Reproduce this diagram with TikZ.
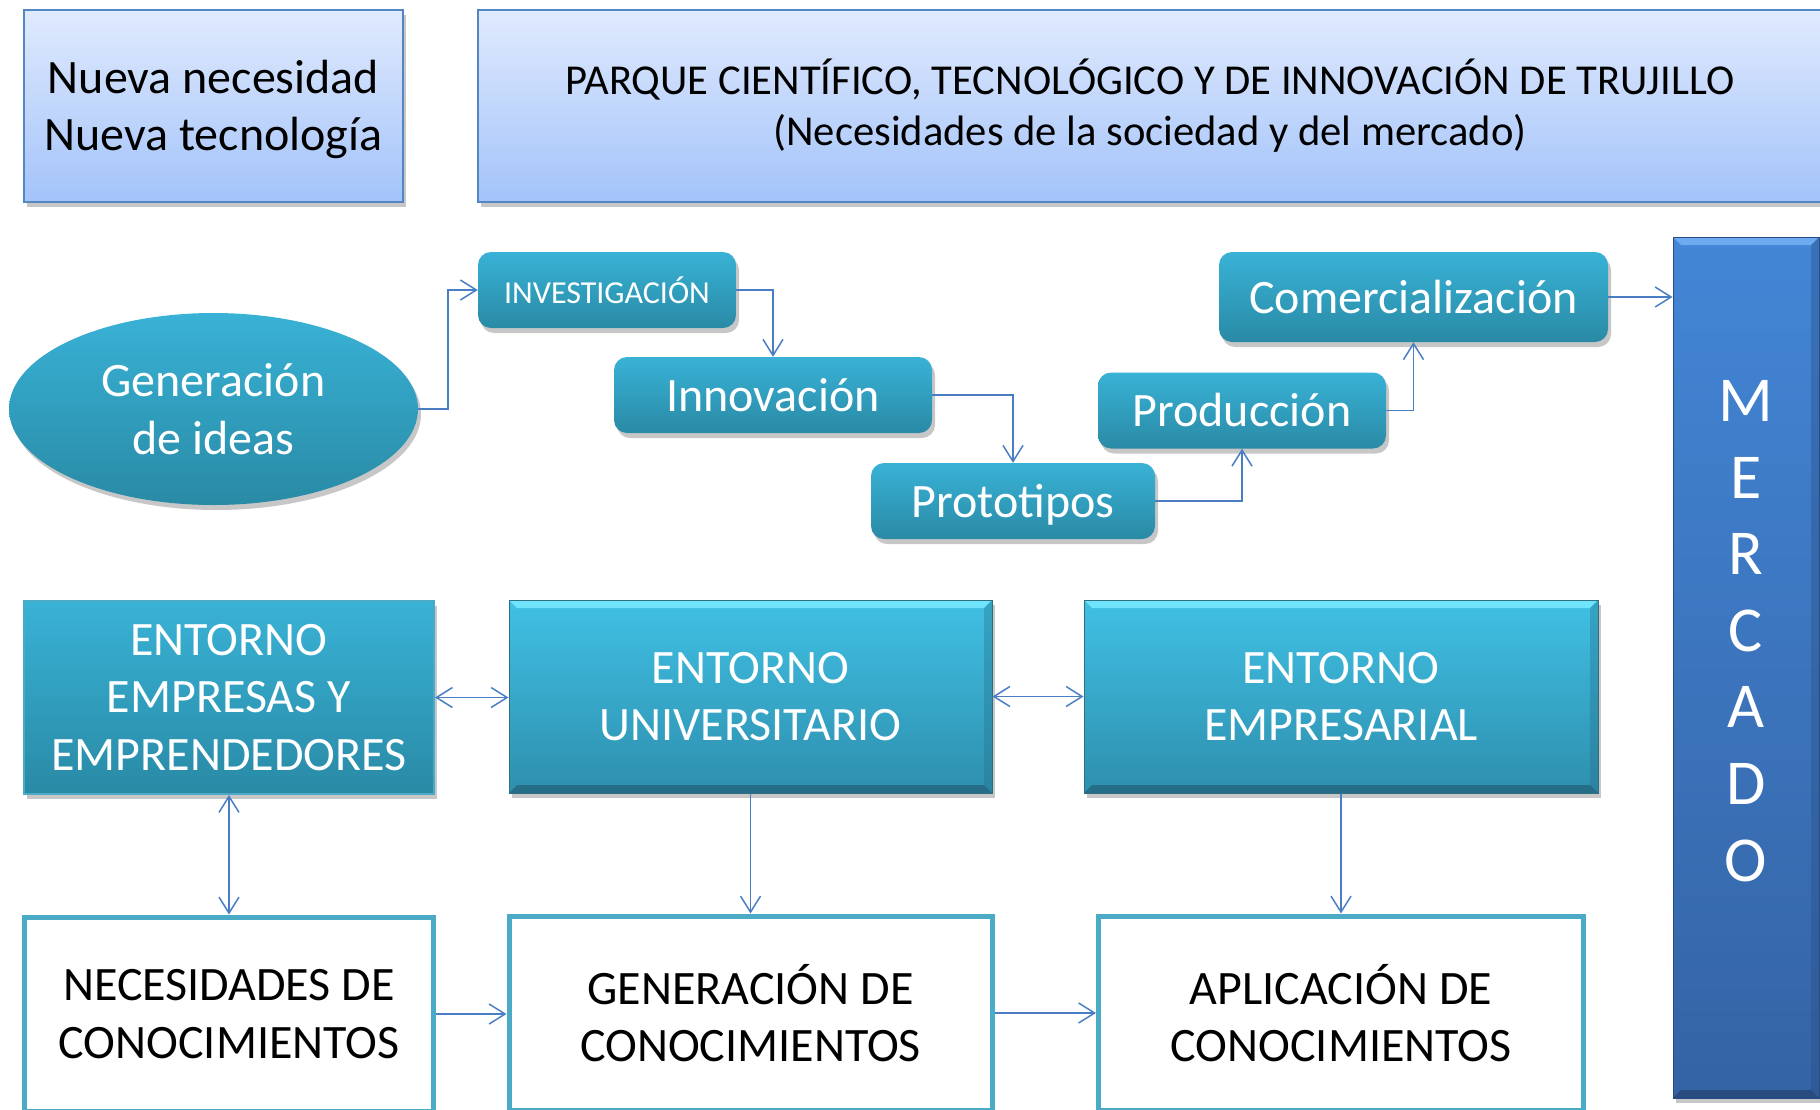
\documentclass[tikz,border=0pt]{standalone}
\usepackage{fontspec}
\setmainfont{Carlito}
\usetikzlibrary{arrows.meta,shapes.geometric,shadows,calc}
\definecolor{conn}{RGB}{74,126,196}
\definecolor{lbTop}{RGB}{224,234,253}
\definecolor{lbBot}{RGB}{163,195,250}
\definecolor{lbEdge}{RGB}{84,134,196}
\definecolor{tTop}{RGB}{57,178,214}
\definecolor{tBot}{RGB}{41,138,165}
\definecolor{eTop}{RGB}{64,192,228}
\definecolor{eBot}{RGB}{46,143,174}
\definecolor{eEdge}{RGB}{48,110,130}
\definecolor{bevLight}{RGB}{112,228,252}
\definecolor{bevDark}{RGB}{38,110,135}
\definecolor{mTop}{RGB}{67,134,214}
\definecolor{mBot}{RGB}{52,99,164}
\definecolor{mLight}{RGB}{110,170,240}
\definecolor{mDark}{RGB}{40,76,128}
\definecolor{wEdge}{RGB}{75,170,198}
\begin{document}
\begin{tikzpicture}[x=1pt,y=-1pt,
  big/.style={font=\fontsize{48pt}{57.5pt}\selectfont},
  shad/.style={drop shadow={shadow xshift=3pt,shadow yshift=-5pt,opacity=0.22,fill=black}},
  lightbox/.style={draw=lbEdge,line width=2pt,top color=lbTop,bottom color=lbBot,
    inner sep=0pt,align=center,shad},
  tround/.style={rounded corners=13pt,top color=tTop,bottom color=tBot,draw=none,
    text=white,inner sep=0pt,align=center,big,shad},
  bevel/.style n args={3}{path picture={
    \fill[#1] (path picture bounding box.north west) -- (path picture bounding box.north east)
      -- ([shift={(-#3,-#3)}]path picture bounding box.north east)
      -- ([shift={(#3,-#3)}]path picture bounding box.north west) -- cycle;
    \fill[#2] (path picture bounding box.south west) -- (path picture bounding box.south east)
      -- ([shift={(-#3,#3)}]path picture bounding box.south east)
      -- ([shift={(#3,#3)}]path picture bounding box.south west) -- cycle;
    \fill[#2,opacity=0.35] (path picture bounding box.north east) -- (path picture bounding box.south east)
      -- ([shift={(-#3,#3)}]path picture bounding box.south east)
      -- ([shift={(-#3,-#3)}]path picture bounding box.north east) -- cycle;
  }},
  entorno/.style={top color=eTop,bottom color=eBot,draw=eEdge,line width=1pt,
    text=white,inner sep=0pt,align=center,big,shad,
    bevel={bevLight}{bevDark}{8pt}},
  wbox/.style={draw=wEdge,line width=5pt,fill=white,inner sep=0pt,align=center,big},
  conn/.style={draw=conn,line width=1.5pt,-{Straight Barb[length=16pt,width=20pt]}},
  dconn/.style={draw=conn,line width=1.5pt,{Straight Barb[length=16pt,width=20pt]}-{Straight Barb[length=16pt,width=20pt]}}
]
\useasboundingbox (0,0) rectangle (1820,1109);
\begin{scope}
\clip (0,0) rectangle (1820,1109);

% top boxes
\node[lightbox,big,minimum width=379pt,minimum height=192pt] (nueva) at (213.5,106)
  {\vphantom{Í}Nueva necesidad\\Nueva tecnología};
\node[lightbox,font=\fontsize{42.6pt}{51pt}\selectfont,minimum width=1344pt,minimum height=192pt] (parque) at (1150,106)
  {PARQUE CIENTÍFICO, TECNOLÓGICO Y DE INNOVACIÓN DE TRUJILLO\\(Necesidades de la sociedad y del mercado)};

% idea ellipse
\node[ellipse,top color=tTop,bottom color=tBot,draw=none,text=white,inner sep=0pt,align=center,big,shad,
  minimum width=409pt,minimum height=192pt] (idea) at (213.5,409) {Generación\\de ideas};

% process chain
\node[tround,font=\fontsize{32pt}{38pt}\selectfont,minimum width=258pt,minimum height=76pt] (inv) at (607,290) {INVESTIGACIÓN};
\node[tround,minimum width=318pt,minimum height=76pt] (inn) at (773,395) {Innovación};
\node[tround,text depth=0pt,minimum width=284pt,minimum height=76pt] (proto) at (1013,501) {\vphantom{ó}Prototipos};
\node[tround,minimum width=288pt,minimum height=76pt] (prod) at (1242,410.5) {Producción};
\node[tround,minimum width=389pt,minimum height=90pt] (comer) at (1413.5,297) {Comercialización};

% mercado
\node[top color=mTop,bottom color=mBot,draw=mDark,line width=1pt,inner sep=0pt,shad,
  bevel={mLight}{mDark}{8pt},minimum width=146pt,minimum height=861pt] (merc) at (1746,667.5) {};
\node[text=white,align=center,font=\fontsize{64pt}{76.6pt}\selectfont,inner sep=0pt] (mtext) at (1746,631)
  {M\\E\\R\\C\\A\\D\\O};

% entornos
\node[top color=tTop,bottom color=tBot,draw=wEdge,line width=2pt,text=white,inner sep=0pt,align=center,big,shad,
  minimum width=410pt,minimum height=193pt] (emp) at (229,697.5) {ENTORNO\\EMPRESAS Y\\EMPRENDEDORES};
\node[entorno,minimum width=483pt,minimum height=193pt] (uni) at (750.5,696.5) {ENTORNO\\UNIVERSITARIO};
\node[entorno,minimum width=514pt,minimum height=193pt] (empr) at (1341,696.5) {ENTORNO\\EMPRESARIAL};

% bottom boxes
\node[wbox,minimum width=409pt,minimum height=194pt] (nec) at (229,1014) {NECESIDADES DE\\CONOCIMIENTOS};
\node[wbox,minimum width=483pt,minimum height=194pt] (gen) at (750.5,1013) {GENERACIÓN DE\\CONOCIMIENTOS};
\node[wbox,minimum width=485pt,minimum height=194pt] (apl) at (1341,1013) {APLICACIÓN DE\\CONOCIMIENTOS};

% connectors
\draw[conn] (idea.east) -- ++(30,0) |- (inv.west);
\draw[conn] (inv.east) -| (inn.north);
\draw[conn] (inn.east) -| (proto.north);
\draw[conn] (proto.east) -| (prod.south);
\draw[conn] (prod.east) -| (comer.south);
\draw[conn] (comer.east) -- (comer.east -| merc.west);
\draw[dconn] (emp.east) -- (emp.east -| uni.west);
\draw[dconn] (uni.east) -- (uni.east -| empr.west);
\draw[dconn] (emp.south) -- (nec.north);
\draw[conn] (uni.south) -- (uni.south |- gen.north);
\draw[conn] (empr.south) -- (empr.south |- apl.north);
\draw[conn] (nec.east) -- (nec.east -| gen.west);
\draw[conn] (gen.east) -- (gen.east -| apl.west);
\end{scope}
\end{tikzpicture}
\end{document}
